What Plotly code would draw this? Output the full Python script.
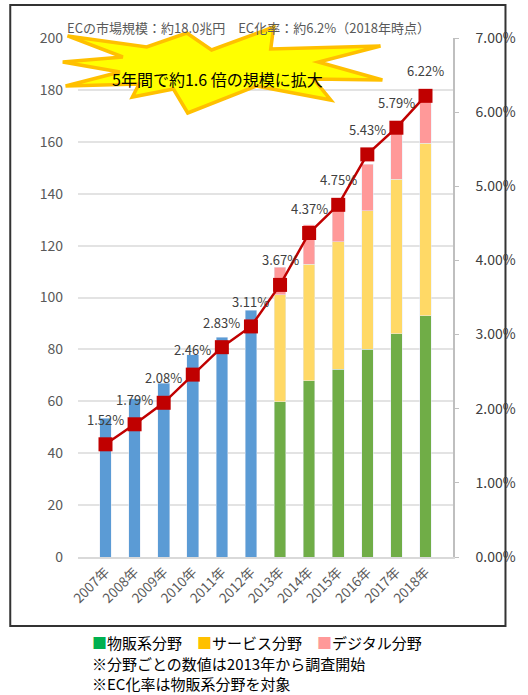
import plotly.graph_objects as go

# ---------------- data ----------------
years = ["2007年", "2008年", "2009年", "2010年", "2011年", "2012年",
         "2013年", "2014年", "2015年", "2016年", "2017年", "2018年"]
total_early = [53.4, 60.9, 67.0, 77.9, 84.6, 95.1, None, None, None, None, None, None]
goods = [None] * 6 + [59.9, 68.0, 72.4, 80.0, 86.0, 93.0]
services = [None] * 6 + [41.1, 44.9, 49.0, 53.5, 59.6, 66.5]
digital = [None] * 6 + [10.7, 15.1, 16.3, 17.8, 19.5, 20.4]
ec_rate = [0.0152, 0.0179, 0.0208, 0.0246, 0.0283, 0.0311,
           0.0367, 0.0437, 0.0475, 0.0543, 0.0579, 0.0622]
rate_labels = ["1.52%", "1.79%", "2.08%", "2.46%", "2.83%", "3.11%",
               "3.67%", "4.37%", "4.75%", "5.43%", "5.79%", "6.22%"]

title_text = "ECの市場規模：約18.0兆円　EC化率：約6.2%（2018年時点）"
burst_text = "5年間で約1.6 倍の規模に拡大"
legend_items = [("物販系分野", "#00B050"), ("サービス分野", "#FFC000"), ("デジタル分野", "#FF9999")]
notes = ["※分野ごとの数値は2013年から調査開始", "※EC化率は物販系分野を対象"]

FONT = "Noto Sans CJK JP"
W, H = 528, 695
L, R, T, B = 78, 57, 38, 138
PW, PH = W - L - R, H - T - B


def px(x):
    return (x - L) / PW


def py(y):
    return (H - B - y) / PH


fig = go.Figure()

bar_w = 0.4
fig.add_trace(go.Bar(x=years, y=total_early, marker_color="#5B9BD5", width=bar_w, name="EC"))
fig.add_trace(go.Bar(x=years, y=goods, marker_color="#70AD47", width=bar_w, name="物販系分野"))
fig.add_trace(go.Bar(x=years, y=services, marker_color="#FFD966", width=bar_w, name="サービス分野"))
fig.add_trace(go.Bar(x=years, y=digital, marker_color="#FF9999", width=bar_w, name="デジタル分野"))

fig.add_trace(go.Scatter(
    x=years, y=ec_rate, yaxis="y2", mode="lines+markers",
    line=dict(color="#C00000", width=2.5),
    marker=dict(symbol="square", size=14, color="#C00000"),
    name="EC化率",
))

annotations = []
for yr, r, lab in zip(years, ec_rate, rate_labels):
    annotations.append(dict(
        x=yr, y=r, xref="x", yref="y2", text=lab, showarrow=False,
        yshift=25, font=dict(family=FONT, size=13, color="#404040"),
    ))

# starburst decoration
star_px = [(67, 36), (150, 47), (192, 33), (218, 50), (283, 27), (280, 49),
           (395, 46), (330, 62), (397, 80), (325, 79), (343, 100), (265, 86),
           (193, 113), (178, 89), (135, 97), (142, 84), (65, 86), (122, 72),
           (62, 62), (125, 57)]
path = "M " + " L ".join(f"{px(x):.4f},{py(y):.4f}" for x, y in star_px) + " Z"
shapes = [
    dict(type="path", xref="paper", yref="paper", path=path,
         fillcolor="#FFFF00", line=dict(color="#FFC000", width=3.5), layer="above"),
    dict(type="rect", xref="paper", yref="paper",
         x0=px(7), x1=px(526), y0=py(626), y1=py(5),
         line=dict(color="#333333", width=2), layer="below"),
]

annotations.append(dict(
    x=px(224), y=py(65), xref="paper", yref="paper", text=burst_text, showarrow=False,
    font=dict(family=FONT, size=16, color="#000000"),
))
annotations.append(dict(
    x=px(257), y=py(16), xref="paper", yref="paper", text=title_text, showarrow=False,
    font=dict(family=FONT, size=13, color="#595959"),
))

legend_html = "　".join(f"<span style='color:{c}'>■</span>{t}" for t, c in legend_items)
for i, txt in enumerate([legend_html] + notes):
    annotations.append(dict(
        x=px(91), y=py([642, 663, 683][i]), xref="paper", yref="paper", text=txt,
        showarrow=False, xanchor="left", yanchor="middle",
        font=dict(family=FONT, size=15, color="#000000"),
    ))

fig.update_layout(
    width=W, height=H, autosize=False,
    margin=dict(l=L, r=R, t=T, b=B),
    barmode="stack", bargap=0.6,
    showlegend=False,
    plot_bgcolor="white", paper_bgcolor="white",
    font=dict(family=FONT),
    xaxis=dict(
        type="category", tickangle=-45, showgrid=False,
        showline=True, linecolor="#D9D9D9", linewidth=2,
        tickfont=dict(family=FONT, size=13.5, color="#595959"),
        ticks="", fixedrange=True,
    ),
    yaxis=dict(
        range=[0, 200], dtick=20, showgrid=True, gridcolor="#E3E3E3", gridwidth=1.5,
        zeroline=False, showline=False, ticks="",
        ticklabelstandoff=14,
        tickfont=dict(family=FONT, size=14, color="#595959"),
    ),
    yaxis2=dict(
        range=[0, 0.07], dtick=0.01, tickformat=".2%", overlaying="y", side="right",
        showgrid=False, zeroline=False, showline=True, linecolor="#BFBFBF", linewidth=1.5,
        ticks="outside", ticklen=4, tickcolor="#BFBFBF", ticklabelstandoff=14,
        tickfont=dict(family=FONT, size=14, color="#404040"),
    ),
    shapes=shapes,
    annotations=annotations,
)

fig.write_html("out.html")
